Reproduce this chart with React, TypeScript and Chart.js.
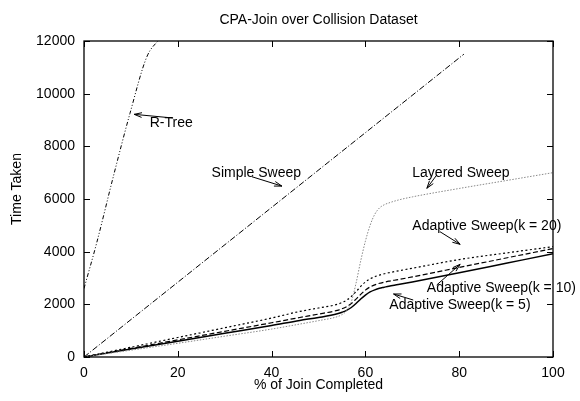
import { useEffect, useRef } from "react";
import { Chart, registerables } from "chart.js";

Chart.register(...registerables);

// ---- data ----
const pct = [0, 10, 20, 30, 40, 46, 50, 54, 55, 56, 57, 58, 59, 60, 61, 62, 63, 64, 65, 67, 70, 80, 90, 100];
const layeredSweep = [0, 260, 520, 790, 1060, 1250, 1380, 1530, 1610, 1760, 2100, 2800, 3650, 4400, 5000, 5420, 5660, 5780, 5850, 5960, 6080, 6400, 6700, 7000];
const adaptive5 = [0, 300, 600, 900, 1200, 1390, 1500, 1640, 1700, 1770, 1880, 2030, 2200, 2350, 2470, 2550, 2610, 2650, 2690, 2750, 2850, 3200, 3560, 3920];
const adaptive10 = [0, 325, 650, 975, 1300, 1500, 1630, 1770, 1830, 1910, 2030, 2200, 2380, 2540, 2660, 2740, 2800, 2840, 2880, 2940, 3040, 3400, 3760, 4120];
const adaptive20 = [0, 370, 740, 1110, 1480, 1730, 1860, 2000, 2070, 2160, 2300, 2480, 2680, 2850, 2970, 3050, 3110, 3160, 3200, 3270, 3370, 3700, 3950, 4190];
const simpleX = [0, 81];
const simpleY = [0, 11500];
const rtreeX = [0, 2.7, 6.25, 9.8, 13.4, 16.2];
const rtreeY = [2600, 4330, 6850, 9250, 11400, 12100];

const xTickValues = [0, 20, 40, 60, 80, 100];
const yTickValues = [0, 2000, 4000, 6000, 8000, 10000, 12000];

const chartTitle = "CPA-Join over Collision Dataset";
const xTitle = "% of Join Completed";
const yTitle = "Time Taken";

// label text, anchor (data), arrow from -> to (data)
const seriesLabels = [
  { text: "R-Tree", x: 14, y: 8885, fx: 19, fy: 9075, tx: 10.7, ty: 9215 },
  { text: "Simple Sweep", x: 27.2, y: 6975, fx: 35.8, fy: 6846, tx: 42.2, ty: 6490 },
  { text: "Layered Sweep", x: 70.0, y: 6975, fx: 75.2, fy: 6910, tx: 73.1, ty: 6405 },
  { text: "Adaptive Sweep(k = 20)", x: 70.0, y: 4974, fx: 75.9, fy: 4758, tx: 80.2, ty: 4279 },
  { text: "Adaptive Sweep(k = 10)", x: 73.1, y: 2608, fx: 75.2, fy: 2734, tx: 80.2, ty: 3520 },
  { text: "Adaptive Sweep(k = 5)", x: 65.1, y: 1974, fx: 70.2, fy: 2164, tx: 66.0, ty: 2392 },
];

const FONT = '"Liberation Sans", Arial, Helvetica, sans-serif';

function pts(xs: number[], ys: number[]) {
  return xs.map((x, i) => ({ x, y: ys[i] }));
}

const decorPlugin = {
  id: "decor",
  afterDraw(chart: any) {
    const { ctx, chartArea: a, scales } = chart;
    const xs = scales.x;
    const ys = scales.y;
    ctx.save();
    // frame
    ctx.strokeStyle = "#000";
    ctx.lineWidth = 1.3;
    ctx.setLineDash([]);
    ctx.strokeRect(a.left, a.top, a.right - a.left, a.bottom - a.top);
    // inward ticks on all sides
    ctx.lineWidth = 1;
    const tl = 6;
    ctx.beginPath();
    for (const t of xs.ticks) {
      const px = Math.round(xs.getPixelForValue(t.value)) + 0.5;
      ctx.moveTo(px, a.bottom);
      ctx.lineTo(px, a.bottom - tl);
      ctx.moveTo(px, a.top);
      ctx.lineTo(px, a.top + tl);
    }
    for (const t of ys.ticks) {
      const py = Math.round(ys.getPixelForValue(t.value)) + 0.5;
      ctx.moveTo(a.left, py);
      ctx.lineTo(a.left + tl, py);
      ctx.moveTo(a.right, py);
      ctx.lineTo(a.right - tl, py);
    }
    ctx.stroke();

    // titles
    ctx.fillStyle = "#000";
    ctx.font = `14px ${FONT}`;
    ctx.textAlign = "center";
    ctx.textBaseline = "middle";
    const cx = (a.left + a.right) / 2;
    ctx.fillText(chartTitle, cx, 20);
    ctx.fillText(xTitle, cx, 385);
    ctx.save();
    ctx.translate(17, 189);
    ctx.rotate(-Math.PI / 2);
    ctx.fillText(yTitle, 0, 0);
    ctx.restore();

    // series labels with arrows
    ctx.textAlign = "left";
    for (const l of seriesLabels) {
      ctx.fillText(l.text, xs.getPixelForValue(l.x), ys.getPixelForValue(l.y));
      const x1 = xs.getPixelForValue(l.fx);
      const y1 = ys.getPixelForValue(l.fy);
      const x2 = xs.getPixelForValue(l.tx);
      const y2 = ys.getPixelForValue(l.ty);
      ctx.beginPath();
      ctx.lineWidth = 1;
      ctx.moveTo(x1, y1);
      ctx.lineTo(x2, y2);
      const ang = Math.atan2(y2 - y1, x2 - x1);
      const hl = 8;
      const ha = 0.3;
      ctx.moveTo(x2, y2);
      ctx.lineTo(x2 - hl * Math.cos(ang - ha), y2 - hl * Math.sin(ang - ha));
      ctx.moveTo(x2, y2);
      ctx.lineTo(x2 - hl * Math.cos(ang + ha), y2 - hl * Math.sin(ang + ha));
      ctx.stroke();
    }
    ctx.restore();
  },
};

export default function App() {
  const ref = useRef<HTMLCanvasElement | null>(null);
  useEffect(() => {
    if (!ref.current) return;
    const common = { pointRadius: 0, fill: false, cubicInterpolationMode: "monotone" as const };
    const chart = new Chart(ref.current, {
      type: "line",
      data: {
        datasets: [
          { label: "R-Tree", data: pts(rtreeX, rtreeY), borderColor: "#000", borderWidth: 1, borderDash: [4, 2, 1, 2, 1, 2], ...common },
          { label: "Simple Sweep", data: pts(simpleX, simpleY), borderColor: "#000", borderWidth: 1, borderDash: [6, 2, 1, 2], ...common },
          { label: "Layered Sweep", data: pts(pct, layeredSweep), borderColor: "#888", borderWidth: 1, borderDash: [1.5, 1.5], ...common },
          { label: "Adaptive Sweep(k = 20)", data: pts(pct, adaptive20), borderColor: "#000", borderWidth: 1.2, borderDash: [2, 2.5], ...common },
          { label: "Adaptive Sweep(k = 10)", data: pts(pct, adaptive10), borderColor: "#000", borderWidth: 1.2, borderDash: [5, 2.5], ...common },
          { label: "Adaptive Sweep(k = 5)", data: pts(pct, adaptive5), borderColor: "#000", borderWidth: 1.5, ...common },
        ],
      },
      options: {
        animation: false,
        responsive: false,
        events: [],
        layout: { padding: { left: 0, right: 27, top: 41, bottom: 0 } },
        plugins: { legend: { display: false }, title: { display: false }, tooltip: { enabled: false } },
        scales: {
          x: {
            type: "linear",
            min: 0,
            max: 100,
            afterFit: (s: any) => { s.height = 44; },
            afterBuildTicks: (s: any) => { s.ticks = xTickValues.map((v) => ({ value: v })); },
            grid: { display: false, drawTicks: false },
            border: { display: false },
            ticks: { padding: 8, color: "#000", font: { family: FONT, size: 14 }, maxRotation: 0, callback: (v: any) => String(v) },
          },
          y: {
            type: "linear",
            min: 0,
            max: 12000,
            afterFit: (s: any) => { s.width = 84; },
            afterBuildTicks: (s: any) => { s.ticks = yTickValues.map((v) => ({ value: v })); },
            grid: { display: false, drawTicks: false },
            border: { display: false },
            ticks: { padding: 9, color: "#000", font: { family: FONT, size: 14 }, callback: (v: any) => String(v) },
          },
        },
      },
      plugins: [decorPlugin],
    });
    return () => chart.destroy();
  }, []);
  return (
    <div style={{ position: "fixed", left: 0, top: 0, width: 580, height: 401, background: "#fff" }}>
      <canvas ref={ref} width={580} height={401} style={{ width: 580, height: 401, display: "block" }} />
    </div>
  );
}
